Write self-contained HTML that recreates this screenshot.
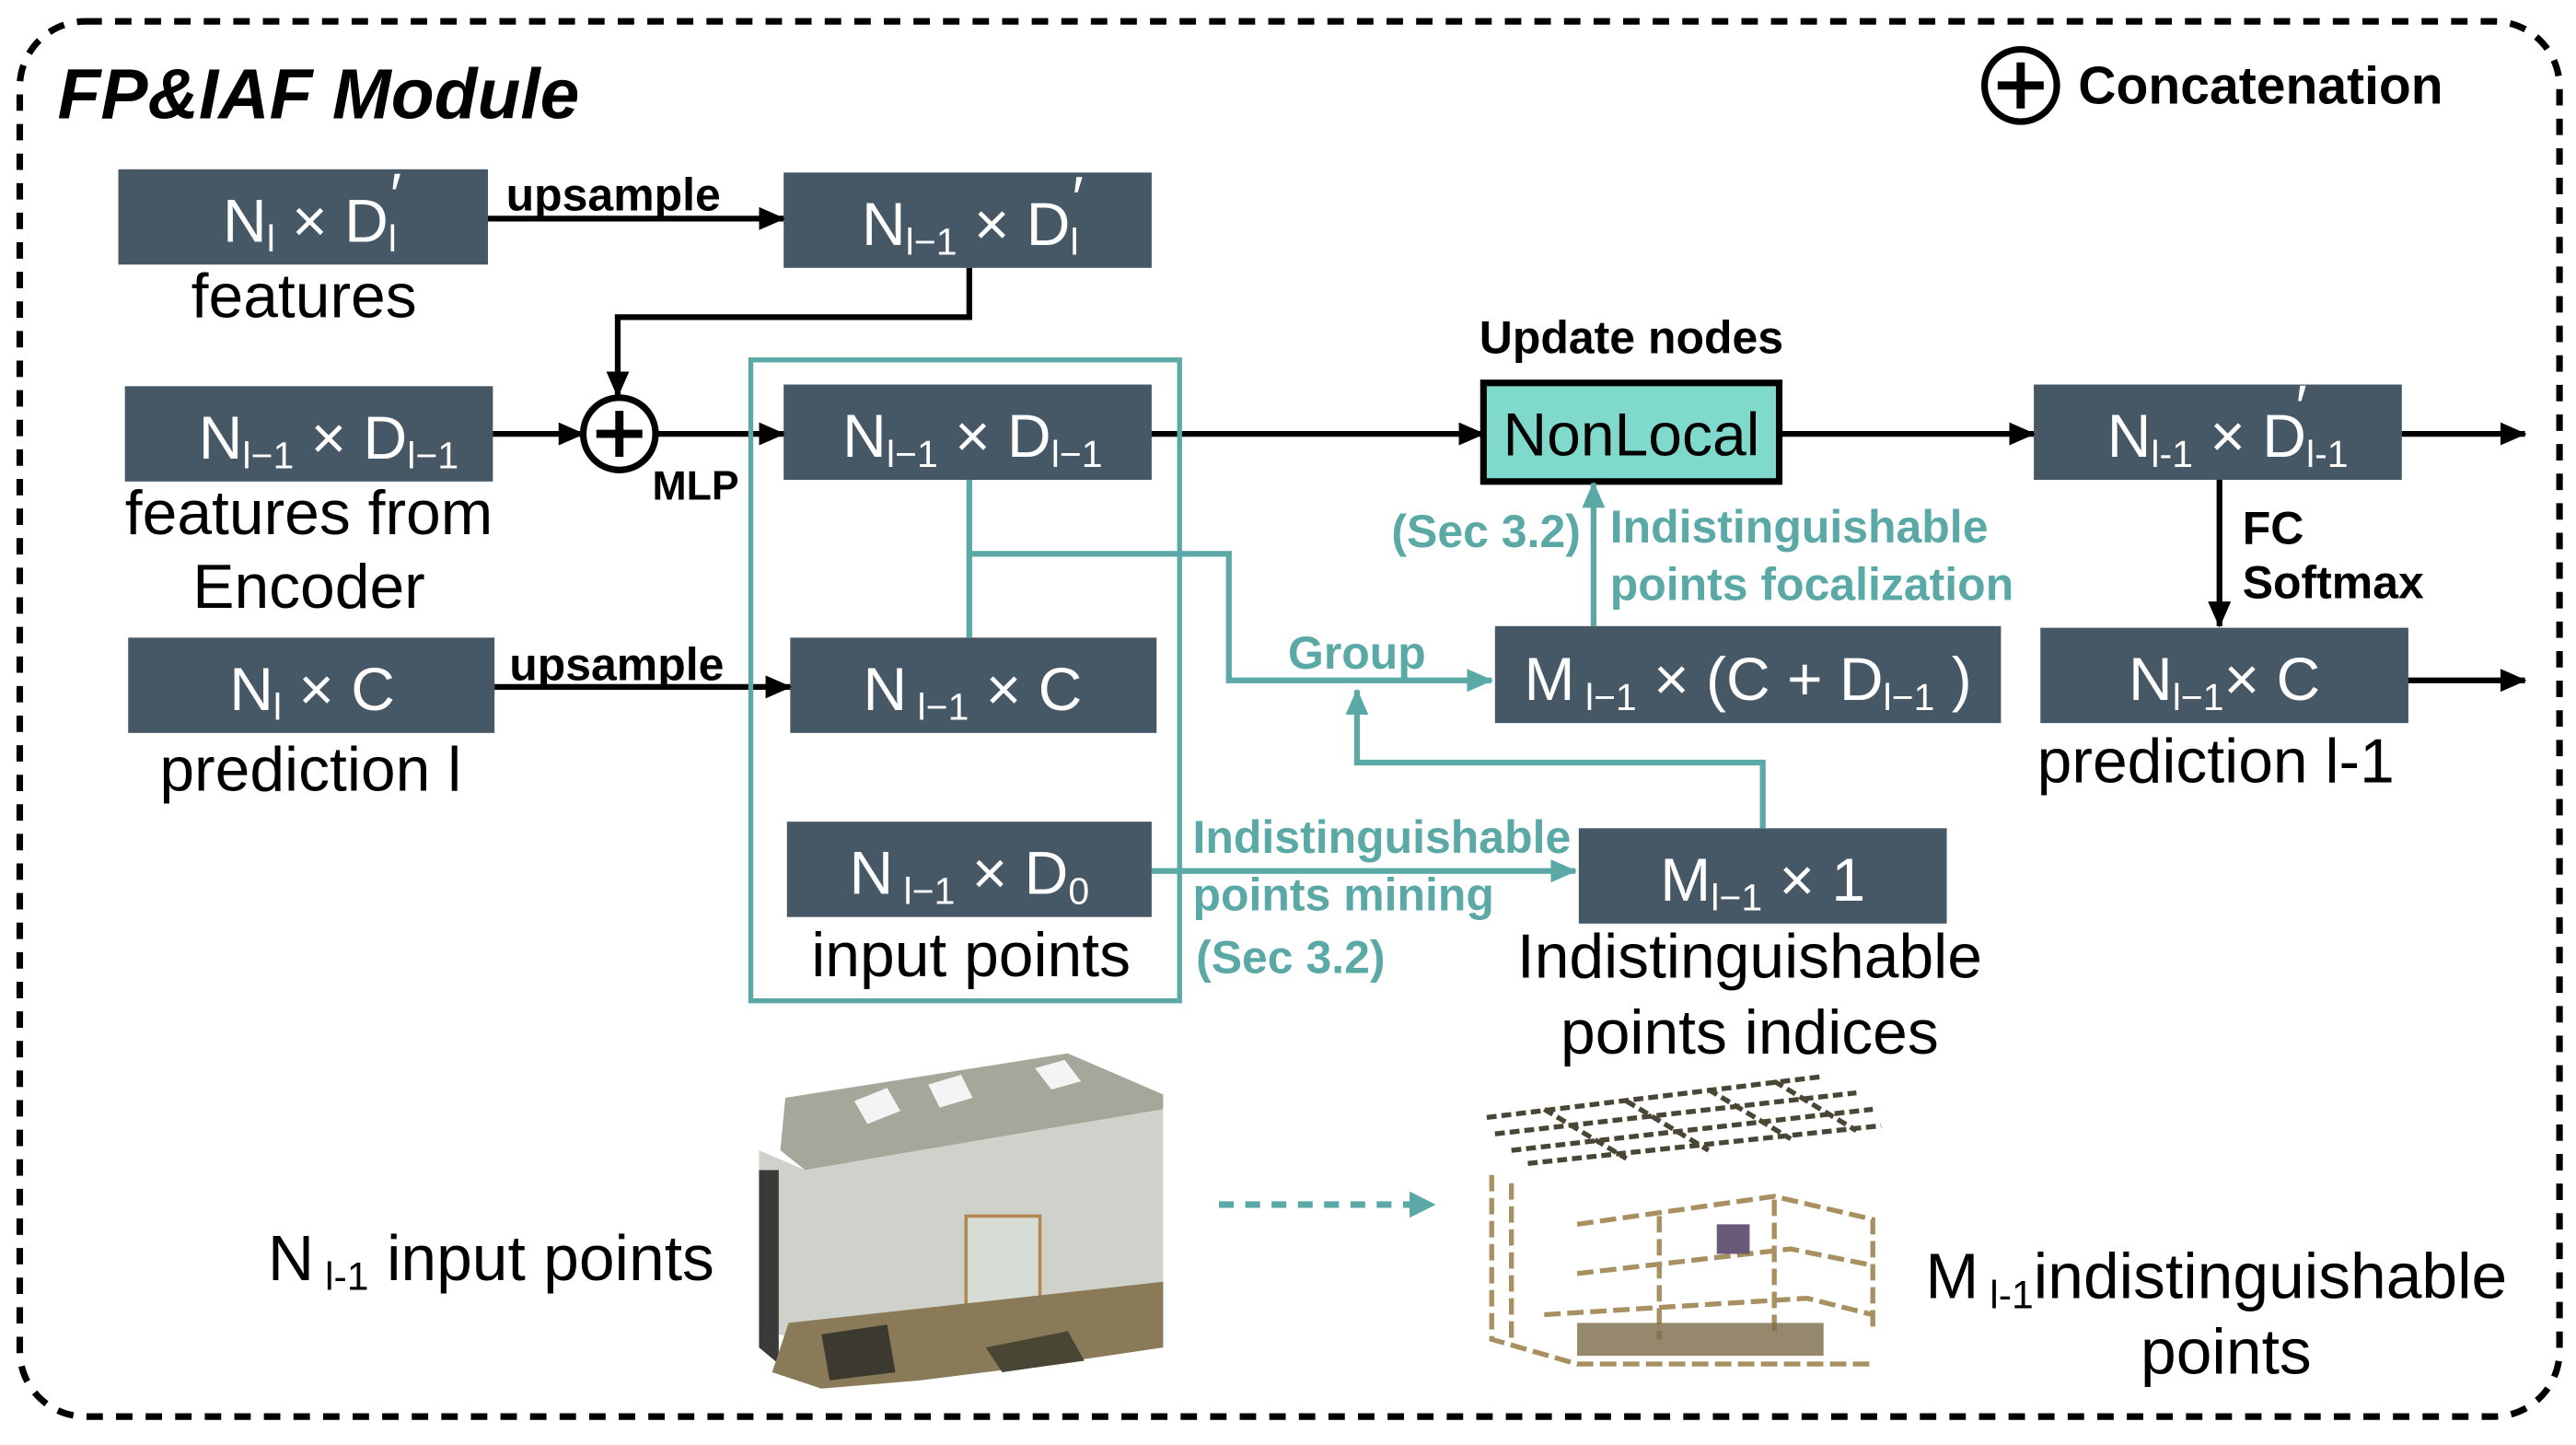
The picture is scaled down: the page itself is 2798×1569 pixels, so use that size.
<!DOCTYPE html>
<html><head><meta charset="utf-8"><style>html,body{margin:0;padding:0;background:#fff}svg{display:block}</style></head>
<body>
<svg width="2798" height="1569" viewBox="0 0 1568 879.3" xmlns="http://www.w3.org/2000/svg" font-family="'Liberation Sans', sans-serif">
<defs>
<marker id="abk" markerWidth="16" markerHeight="14" refX="15" refY="7" orient="auto" markerUnits="userSpaceOnUse"><path d="M0,0 L16,7 L0,14 Z" fill="#000"/></marker>
<marker id="at" markerWidth="16" markerHeight="14" refX="15" refY="7" orient="auto" markerUnits="userSpaceOnUse"><path d="M0,0 L16,7 L0,14 Z" fill="#5aa9a6"/></marker>
</defs>
<rect x="12" y="13" width="1546" height="849" rx="40" fill="none" stroke="#000" stroke-width="4" stroke-dasharray="10,8"/>
<text x="35" y="72" font-size="43" font-weight="bold" font-style="italic">FP&amp;IAF Module</text>
<circle cx="1230" cy="52" r="22" fill="none" stroke="#000" stroke-width="4"/>
<path d="M1230,38 V66 M1216,52 H1244" stroke="#000" stroke-width="5"/>
<text x="1265" y="63" font-size="32" font-weight="bold">Concatenation</text>

<g fill="#465766">
<rect x="72" y="103" width="225" height="58"/>
<rect x="477" y="105" width="224" height="58"/>
<rect x="76" y="235" width="224" height="58"/>
<rect x="477" y="234" width="224" height="58"/>
<rect x="78" y="388" width="223" height="58"/>
<rect x="481" y="388" width="223" height="58"/>
<rect x="479" y="500" width="222" height="58"/>
<rect x="1238" y="234" width="224" height="58"/>
<rect x="910" y="381" width="308" height="59"/>
<rect x="1242" y="382" width="224" height="58"/>
<rect x="961" y="504" width="224" height="58"/>
</g>
<rect x="903" y="233" width="180" height="60" fill="#7fdacb" stroke="#000" stroke-width="4"/>
<text x="993" y="277" font-size="37" text-anchor="middle">NonLocal</text>

<g fill="#fff" font-size="37" text-anchor="middle">
<text x="190" y="147">N<tspan font-size="23" dy="6">l</tspan><tspan dy="-6"> × D</tspan><tspan font-size="23" dy="6">l</tspan><tspan dy="-22" dx="-4">′</tspan></text>
<text x="592" y="149">N<tspan font-size="23" dy="6">l−1</tspan><tspan dy="-6"> × D</tspan><tspan font-size="23" dy="6">l</tspan><tspan dy="-22" dx="-4">′</tspan></text>
<text x="200" y="279">N<tspan font-size="23" dy="6">l−1</tspan><tspan dy="-6">  × D</tspan><tspan font-size="23" dy="6">l−1</tspan></text>
<text x="592" y="278">N<tspan font-size="23" dy="6">l−1</tspan><tspan dy="-6"> × D</tspan><tspan font-size="23" dy="6">l−1</tspan></text>
<text x="190" y="432">N<tspan font-size="23" dy="6">l</tspan><tspan dy="-6"> × C</tspan></text>
<text x="592" y="432">N<tspan font-size="23" dy="6"> l−1</tspan><tspan dy="-6"> × C</tspan></text>
<text x="590" y="544">N<tspan font-size="23" dy="6"> l−1</tspan><tspan dy="-6"> × D</tspan><tspan font-size="23" dy="6">0</tspan></text>
<text x="1356" y="278">N<tspan font-size="23" dy="6">l-1</tspan><tspan dy="-6"> × D</tspan><tspan font-size="23" dy="6">l-1</tspan><tspan dy="-24" dx="-32">′</tspan></text>
<text x="1064" y="426">M<tspan font-size="23" dy="6"> l−1</tspan><tspan dy="-6"> × (C + D</tspan><tspan font-size="23" dy="6">l−1</tspan><tspan dy="-6"> )</tspan></text>
<text x="1354" y="426">N<tspan font-size="23" dy="6">l−1</tspan><tspan dy="-6">× C</tspan></text>
<text x="1073" y="548">M<tspan font-size="23" dy="6">l−1</tspan><tspan dy="-6"> × 1</tspan></text>
</g>

<g font-size="38" text-anchor="middle">
<text x="185" y="193">features</text>
<text x="188" y="325">features from</text>
<text x="188" y="370">Encoder</text>
<text x="189" y="481">prediction l</text>
<text x="591" y="594">input points</text>
<text x="1065" y="595">Indistinguishable</text>
<text x="1065" y="641">points indices</text>
<text x="1240" y="476" text-anchor="start">prediction l-1</text>
<text x="163" y="779" text-anchor="start" font-size="39">N<tspan font-size="24" dy="6"> l-1</tspan><tspan dy="-6"> input points</tspan></text>
<text x="1172" y="790" text-anchor="start" font-size="39">M<tspan font-size="24" dy="6"> l-1</tspan><tspan dy="-6">indistinguishable</tspan></text>
<text x="1355" y="836" font-size="39">points</text>
</g>
<g font-size="28" font-weight="bold">
<text x="308" y="128">upsample</text>
<text x="310" y="414">upsample</text>
<text x="397" y="304" font-size="25">MLP</text>
<text x="993" y="215" text-anchor="middle">Update nodes</text>
<text x="1365" y="331">FC</text>
<text x="1365" y="364">Softmax</text>
</g>
<g font-size="28" font-weight="bold" fill="#5aa9a6">
<text x="847" y="333">(Sec 3.2)</text>
<text x="980" y="330">Indistinguishable</text>
<text x="980" y="365">points focalization</text>
<text x="784" y="407">Group</text>
<text x="726" y="519">Indistinguishable</text>
<text x="726" y="554">points mining</text>
<text x="728" y="592">(Sec 3.2)</text>
</g>

<g stroke="#000" stroke-width="3.5" fill="none" marker-end="url(#abk)">
<path d="M297,133 H477"/>
<path d="M590,163 V193 H376 V241"/>
<path d="M300,264 H355"/>
<path d="M399,264 H477"/>
<path d="M701,264 H903"/>
<path d="M1083,264 H1238"/>
<path d="M1462,264 H1537"/>
<path d="M1351,292 V381"/>
<path d="M1466,414 H1537"/>
<path d="M301,418 H481"/>
</g>
<circle cx="377" cy="264" r="22" fill="#fff" stroke="#000" stroke-width="4"/>
<path d="M377,250 V278 M363,264 H391" stroke="#000" stroke-width="5"/>

<rect x="457" y="219" width="261" height="390" fill="none" stroke="#5aa9a6" stroke-width="3"/>
<g stroke="#5aa9a6" stroke-width="3.5" fill="none">
<path d="M590,292 V388"/>
<path d="M590,337 H748 V414 H908" marker-end="url(#at)"/>
<path d="M1073,504 V464 H826 V420" marker-end="url(#at)"/>
<path d="M970,381 V294" marker-end="url(#at)"/>
<path d="M701,530 H959" marker-end="url(#at)"/>
<path d="M742,733 H858" stroke-dasharray="9,7" stroke-width="4"/>
</g>
<path d="M858,725 L874,733 L858,741 Z" fill="#5aa9a6"/>

<!-- left room image -->
<polygon points="478,668 650,641 708,666 708,675 560,700 490,712 475,700" fill="#a7a69a"/>
<polygon points="462,700 490,712 560,700 708,675 708,790 640,800 520,820 462,810" fill="#cfd2cb"/>
<polygon points="462,712 474,712 474,830 462,820" fill="#3a3a3a"/>
<rect x="588" y="740" width="45" height="75" fill="#d8dcd6" stroke="#b08850" stroke-width="2"/>
<polygon points="480,805 708,780 708,820 640,830 560,840 500,845 470,835" fill="#8a7a58"/>
<polygon points="500,812 540,806 545,835 505,840" fill="#3c3a30"/>
<polygon points="600,820 650,810 660,828 610,835" fill="#4a4636"/>
<polygon points="520,670 540,662 548,676 528,684" fill="#f4f4f4"/>
<polygon points="565,660 585,654 592,668 572,674" fill="#f4f4f4"/>
<polygon points="630,650 648,645 658,658 640,663" fill="#f4f4f4"/>
<!-- right point cloud -->
<g stroke="#4a4636" stroke-width="3" fill="none" stroke-dasharray="6,3">
<path d="M905,680 L1110,655 M910,690 L1130,665 M920,700 L1140,675 M930,708 L1145,685"/>
<path d="M940,675 L990,705 M990,670 L1040,700 M1040,663 L1090,693 M1080,658 L1130,688"/>
</g>
<g stroke="#a89060" stroke-width="3" fill="none" stroke-dasharray="10,4">
<path d="M908,715 V815 L960,830 H1140"/>
<path d="M920,720 V815"/>
<path d="M960,745 L1080,728 L1140,742 V810"/>
<path d="M960,775 L1090,760 L1140,770"/>
<path d="M940,800 L1100,790 L1140,800"/>
<path d="M1010,740 V815 M1080,730 V810"/>
</g>
<rect x="960" y="805" width="150" height="20" fill="#7a6a48" opacity="0.8"/>
<rect x="1045" y="745" width="20" height="18" fill="#6a5a7a"/>
</svg>
</body></html>
